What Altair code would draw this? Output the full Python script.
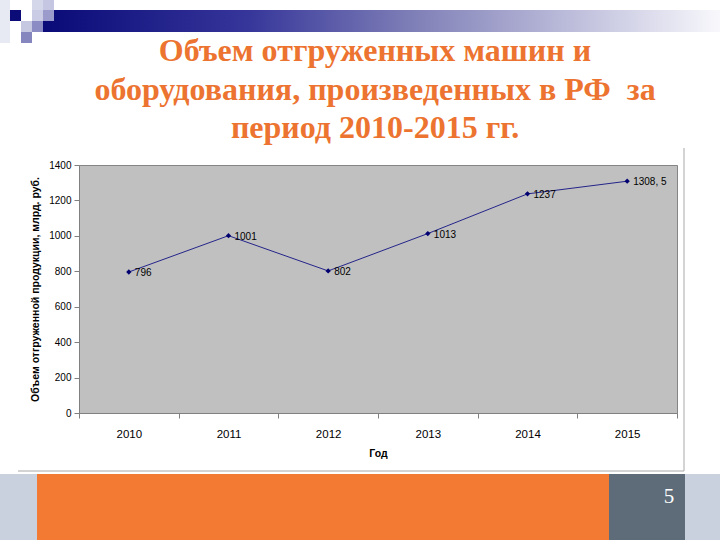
import altair as alt
import pandas as pd

# ---- data ----
years = ["2010", "2011", "2012", "2013", "2014", "2015"]
values = [796, 1001, 802, 1013, 1237, 1308.5]
labels = ["796", "1001", "802", "1013", "1237", "1308, 5"]
y_ticks = [0, 200, 400, 600, 800, 1000, 1200, 1400]

title_lines = [
    "Объем отгруженных машин и",
    "оборудования, произведенных в РФ\u00a0 за",
    "период 2010-2015 гг.",
]
y_title = "Объем отгруженной продукции, млрд. руб."
x_title = "Год"
page_number = "5"

df = pd.DataFrame({"year": years, "value": values, "label": labels})

# ---- layout (page pixels) ----
L, T = 79, 165
W, H = 598, 248
R = 720 - L - W
B = 540 - T - H


def px(x):
    return x - L


def py(y):
    return y - T


one = alt.Data(values=[{}])


def rect(x1, y1, x2, y2, fill):
    return alt.Chart(one).mark_rect(fill=fill).encode(
        x=alt.value(px(x1)), x2=alt.value(px(x2)),
        y=alt.value(py(y1)), y2=alt.value(py(y2)))


def label(x, y, text, **kw):
    return alt.Chart(one).mark_text(**kw).encode(
        x=alt.value(px(x)), y=alt.value(py(y)), text=alt.value(text))


grad = alt.LinearGradient(
    gradient="linear",
    stops=[
        alt.GradientStop(color="#0A0A78", offset=0),
        alt.GradientStop(color="#35359A", offset=0.3),
        alt.GradientStop(color="#8080B8", offset=0.55),
        alt.GradientStop(color="#C2C2DE", offset=0.8),
        alt.GradientStop(color="#F8F8FC", offset=1),
    ],
    x1=0, x2=1, y1=0, y2=0,
)

bar = alt.Chart(one).mark_rect(fill=grad).encode(
    x=alt.value(px(43)), x2=alt.value(px(720)),
    y=alt.value(py(10)), y2=alt.value(py(32)))

squares = [
    rect(0, 0, 10, 43, "#E8EAF3"),
    rect(10, 10, 21, 21, "#0C0C78"),
    rect(32, 0, 43, 10, "#D4D6EA"),
    rect(43, 0, 54, 10, "#C4C6E2"),
    rect(32, 10, 43, 21, "#CACCE6"),
    rect(43, 10, 54, 21, "#9C9CCC"),
    rect(21, 21, 32, 32, "#C6C8E2"),
    rect(32, 21, 43, 32, "#8C8CC4"),
    rect(21, 32, 32, 43, "#8686BE"),
]

# bottom band
bottom = [
    rect(0, 474, 720, 540, "#C9D1DF"),
    rect(37, 474, 609, 540, "#F27A33"),
    rect(609, 474, 685, 540, "#5E6B78"),
]
page = label(669, 503, page_number, font="Liberation Serif", fontSize=21,
             color="white", align="center", baseline="alphabetic")

# chart frame (right and bottom edges)
frame_r = alt.Chart(one).mark_rule(color="#A8A8A8", strokeWidth=1).encode(
    x=alt.value(px(684)), y=alt.value(py(148)), y2=alt.value(py(471)))
frame_b = alt.Chart(one).mark_rule(color="#A8A8A8", strokeWidth=1).encode(
    x=alt.value(px(18)), x2=alt.value(px(684)), y=alt.value(py(471)))

# title
title_layers = [
    label(375, yb, t, font="Liberation Serif", fontSize=32, fontWeight="bold",
          color="#EC7430", align="center", baseline="alphabetic")
    for t, yb in zip(title_lines, [61, 100, 138])
]

# ---- data layers ----
x_enc = alt.X(
    "year:O",
    scale=alt.Scale(type="band", paddingInner=0, paddingOuter=0),
    axis=alt.Axis(
        title=x_title, tickBand="extent", labelAngle=0, labelFont="Liberation Sans",
        labelFontSize=11.5, labelColor="black", labelPadding=10, tickSize=5,
        tickColor="#808080", domainColor="#808080", titleFont="Liberation Sans",
        titleFontSize=10.5, titleFontWeight="bold", titleColor="black",
        titlePadding=9, grid=False,
    ),
)
y_enc = alt.Y(
    "value:Q",
    scale=alt.Scale(domain=[0, 1400], nice=False, zero=True),
    axis=alt.Axis(
        title=y_title, values=y_ticks, format="d", grid=False,
        labelFont="Liberation Sans", labelFontSize=10, labelColor="black",
        labelPadding=3, tickSize=5, tickColor="#808080", domainColor="#808080",
        titleFont="Liberation Sans", titleFontSize=10.5, titleFontWeight="bold",
        titleColor="black", titlePadding=8,
    ),
)

base = alt.Chart(df)
line = base.mark_line(color="#24248A", strokeWidth=1).encode(x=x_enc, y=y_enc)
pts = base.mark_point(shape="diamond", filled=True, size=28, color="#000070",
                      opacity=1).encode(x=x_enc, y=y_enc)
txt = base.mark_text(align="left", dx=6, dy=1, fontSize=10,
                     font="Liberation Sans", color="black").encode(
    x=x_enc, y=y_enc, text="label:N")

chart = alt.layer(
    frame_r, frame_b, *bottom, page, bar, *squares, *title_layers,
    line, pts, txt,
).properties(
    width=W, height=H,
    padding={"left": L, "top": T, "right": R, "bottom": B},
    autosize=alt.AutoSizeParams(type="none"),
    background="white",
).configure_view(
    fill="#C0C0C0", stroke="#858585", strokeWidth=1,
)

chart.save("out.html", embed_options={"renderer": "svg", "actions": False})
